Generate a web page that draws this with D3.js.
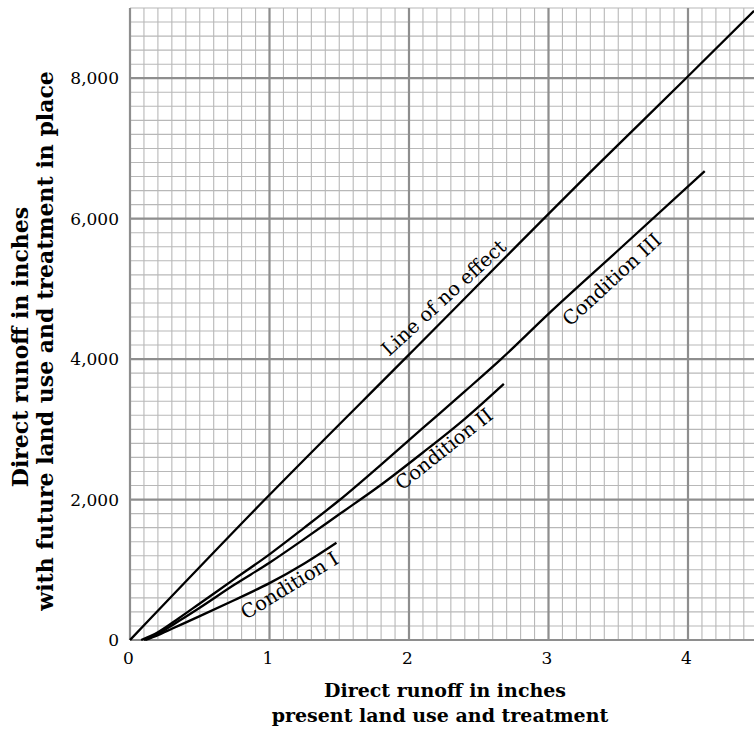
<!DOCTYPE html>
<html>
<meta charset="utf-8">
<title>Direct runoff</title>
<script src="https://d3js.org/d3.v7.min.js"></script>
<style>
  body { margin: 0; overflow: hidden; background: #fff; }
  text { font-family: "DejaVu Serif", serif; fill: #000; }
</style>
<body>
<script>
  // values
  var noEffectX = [0, 0.967, 2, 3.369, 3.986, 4.473];
  var noEffectY = [0, 2000, 4064, 6798, 8000, 8960];

  var cond1X = [0.11, 0.2, 0.3, 0.5, 0.75, 1, 1.25, 1.48];
  var cond1Y = [0, 70, 160, 340, 570, 810, 1090, 1385];

  var cond2X = [0.1, 0.2, 0.35, 0.5, 0.75, 1, 1.25, 1.5, 1.79, 2.1, 2.4, 2.68];
  var cond2Y = [0, 90, 270, 460, 790, 1100, 1440, 1790, 2196, 2670, 3150, 3648];

  var cond3X = [0.08, 0.2, 0.35, 0.5, 0.75, 1, 1.25, 1.5, 1.79, 2.1, 2.4, 2.66, 3, 3.5, 4.12];
  var cond3Y = [0, 110, 310, 520, 870, 1220, 1600, 1990, 2481, 3020, 3540, 4000, 4644, 5550, 6678];

  var xTicks = [0, 1, 2, 3, 4];
  var yTicks = [0, 2000, 4000, 6000, 8000];
  var lineLabels = ["Line of no effect", "Condition III", "Condition II", "Condition I"];

  var width = 754, height = 733;
  var padLeft = 130, padBottom = 640, padTop = 8;

  var svg = d3.select("body").append("svg")
    .attr("width", width).attr("height", height);

  var x = d3.scaleLinear().domain([0, 4.5]).range([padLeft, padLeft + 4.5 * 139.5]);
  var y = d3.scaleLinear().domain([0, 9000]).range([padBottom, padTop]);

  // minor grid
  var minorX = d3.range(0, 4.51, 0.1);
  var minorY = d3.range(0, 9001, 200);
  svg.append("g").selectAll("line").data(minorX).enter().append("line")
    .attr("x1", function(d) { return x(d); }).attr("x2", function(d) { return x(d); })
    .attr("y1", y(0)).attr("y2", y(9000))
    .attr("stroke", "#b8b8b8").attr("stroke-width", 1.1);
  svg.append("g").selectAll("line").data(minorY).enter().append("line")
    .attr("y1", function(d) { return y(d); }).attr("y2", function(d) { return y(d); })
    .attr("x1", x(0)).attr("x2", x(4.5))
    .attr("stroke", "#b8b8b8").attr("stroke-width", 1.1);

  // major grid
  svg.append("g").selectAll("line").data(xTicks).enter().append("line")
    .attr("x1", function(d) { return x(d); }).attr("x2", function(d) { return x(d); })
    .attr("y1", y(0)).attr("y2", y(9000))
    .attr("stroke", "#8e8e8e").attr("stroke-width", 2.2);
  svg.append("g").selectAll("line").data(yTicks).enter().append("line")
    .attr("y1", function(d) { return y(d); }).attr("y2", function(d) { return y(d); })
    .attr("x1", x(0)).attr("x2", x(4.5))
    .attr("stroke", "#8e8e8e").attr("stroke-width", 2.2);

  // axes: labels only, the grid is the frame
  var axisX = d3.axisBottom(x).tickValues(xTicks).tickSize(0).tickPadding(12)
    .tickFormat(d3.format("d"));
  var gx = svg.append("g").attr("transform", "translate(-2," + padBottom + ")").call(axisX);
  gx.select(".domain").remove();
  gx.selectAll("text").style("font-family", "DejaVu Serif").style("font-size", "17px");

  var axisY = d3.axisLeft(y).tickValues(yTicks).tickSize(0).tickPadding(12)
    .tickFormat(d3.format(","));
  var gy = svg.append("g").attr("transform", "translate(" + (padLeft + 1) + ",0)").call(axisY);
  gy.select(".domain").remove();
  gy.selectAll("text").style("font-family", "DejaVu Serif").style("font-size", "17px");

  // curves
  var line = d3.line()
    .x(function(d) { return x(d[0]); })
    .y(function(d) { return y(d[1]); })
    .curve(d3.curveMonotoneX);

  function pairs(xs, ys) { return xs.map(function(v, i) { return [v, ys[i]]; }); }

  var series = [
    pairs(noEffectX, noEffectY),
    pairs(cond3X, cond3Y),
    pairs(cond2X, cond2Y),
    pairs(cond1X, cond1Y)
  ];
  svg.append("g").selectAll("path").data(series).enter().append("path")
    .attr("d", line)
    .attr("fill", "none")
    .attr("stroke", "#000")
    .attr("stroke-width", 2.3);

  // labels along the curves
  var labelPos = [[389, 357, -42.5], [570, 327, -42.5], [402, 491, -38.5], [246, 620, -31.5]];
  svg.append("g").selectAll("text").data(lineLabels).enter().append("text")
    .attr("transform", function(d, i) {
      var p = labelPos[i];
      return "translate(" + p[0] + "," + p[1] + ") rotate(" + p[2] + ")";
    })
    .style("font-size", "19.5px")
    .text(function(d) { return d; });

  // axis titles
  var xt = svg.append("text").attr("text-anchor", "middle")
    .style("font-weight", "bold").style("font-size", "19px");
  xt.append("tspan").attr("x", 445).attr("y", 697).text("Direct runoff in inches");
  xt.append("tspan").attr("x", 440).attr("y", 722).text("present land use and treatment");

  var yt = svg.append("text").attr("text-anchor", "middle")
    .attr("transform", "rotate(-90)")
    .style("font-weight", "bold").style("font-size", "22px");
  yt.append("tspan").attr("x", -347).attr("y", 28).text("Direct runoff in inches");
  yt.append("tspan").attr("x", -341).attr("y", 53).text("with future land use and treatment in place");
</script>
</body>
</html>
